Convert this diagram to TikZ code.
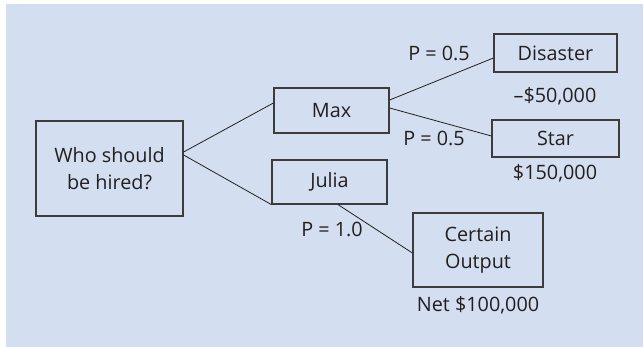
\documentclass[tikz,border=0pt]{standalone}
\usepackage{fontspec}
\setmainfont{Open Sans}
\usetikzlibrary{calc}
\definecolor{panel}{HTML}{D3DFF0}
\definecolor{boxline}{HTML}{3C3C3C}
\definecolor{ink}{HTML}{231F20}
\begin{document}
\begin{tikzpicture}[x=1pt,y=-1pt,
  box/.style={draw=boxline,line width=1.2pt,inner sep=0pt,align=center,
    font=\fontsize{19.8}{27.5}\selectfont,text=ink},
  lbl/.style={inner sep=0pt,font=\fontsize{19.8}{27.5}\selectfont,text=ink},
  link/.style={draw=ink,line width=0.8pt}]
\useasboundingbox (0,0) rectangle (643,347);
\fill[panel] (6,4) rectangle (643,347);
% decision and outcome boxes
\node[box,minimum width=147,minimum height=95] (who) at (109.5,168.5) {Who should\\be hired?};
\node[box,minimum width=115,minimum height=45] (max) at (331.5,110.5) {Max};
\node[box,minimum width=115,minimum height=44] (julia) at (329.5,182) {Julia};
\node[box,minimum width=123,minimum height=38] (disaster) at (555.5,53) {Disaster};
\node[box,minimum width=127,minimum height=37] (star) at (555.5,138.5) {Star};
\node[box,minimum width=130,minimum height=74] (certain) at (478,250) {Certain\\Output};
% branches
\draw[link] ($(who.east)+(0,-16.5)$) -- ($(max.west)+(0,-7.5)$);
\draw[link] ($(who.east)+(0,-13.5)$) -- (julia.south west);
\draw[link] ($(max.east)+(0,-10.5)$) -- ($(disaster.west)+(0,5)$);
\draw[link] ($(max.east)+(0,-2.5)$) -- ($(star.west)+(0,-2.5)$);
\draw[link] ($(julia.south)+(8.5,0)$) -- ($(certain.west)+(0,3)$);
% probabilities and payoffs
\node[lbl] (p1) at (439,53) {P = 0.5};
\node[lbl] (p2) at (434,138) {P = 0.5};
\node[lbl] (p3) at (332,229) {P = 1.0};
\node[lbl] (v1) at (555,96) {–\$50,000};
\node[lbl] (v2) at (555,173) {\$150,000};
\node[lbl] (v3) at (478,305) {Net \$100,000};
\end{tikzpicture}
\end{document}
